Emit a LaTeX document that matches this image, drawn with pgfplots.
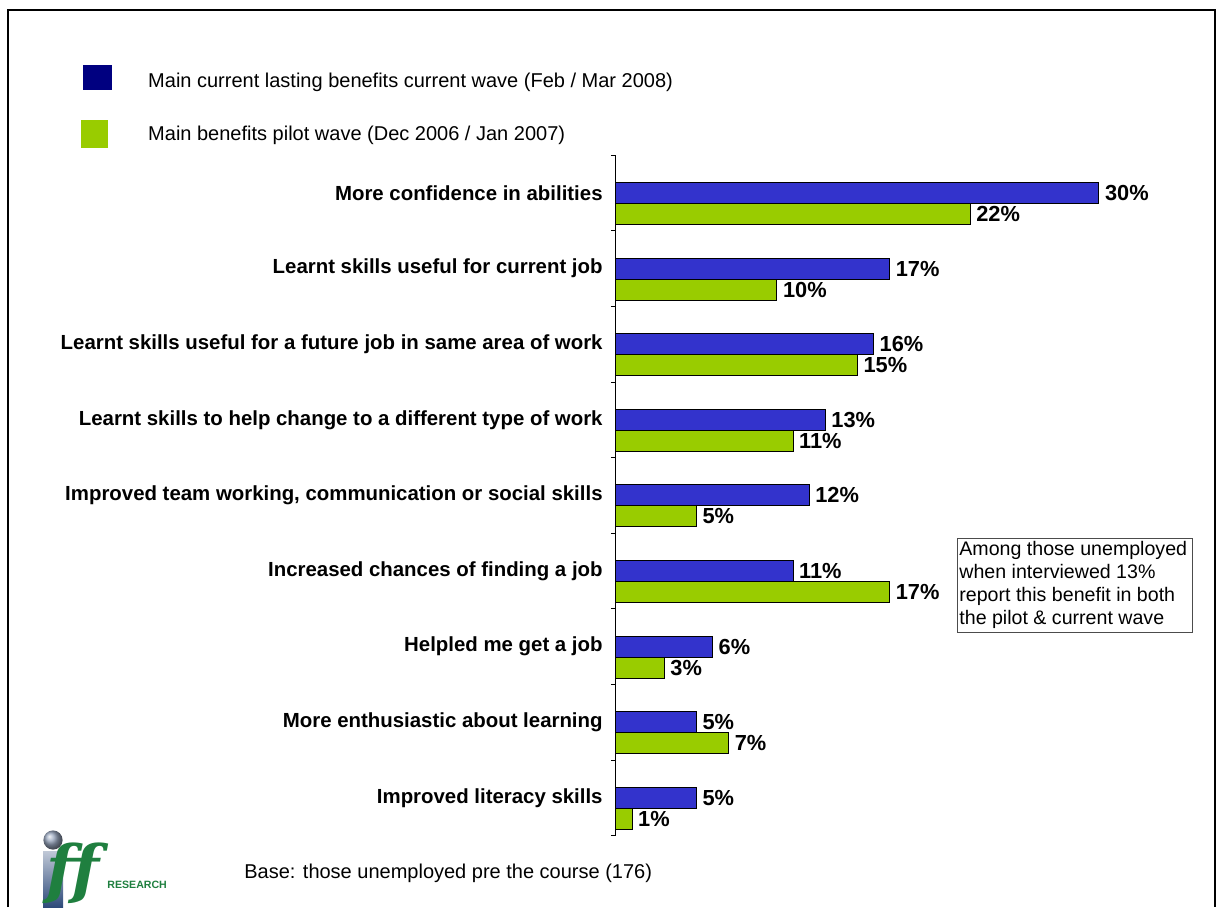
\documentclass[border=0pt]{standalone}
\usepackage{pgfplots}
\pgfplotsset{compat=1.18}
\usepackage{fontspec}
\setmainfont{Liberation Sans}
\newfontfamily\logofont{DejaVu Serif}
\definecolor{barblue}{HTML}{3333CC}
\definecolor{bargreen}{HTML}{99CC00}
\definecolor{legnavy}{HTML}{000080}
\definecolor{logogreen}{HTML}{1F7F3F}
\definecolor{logoblue}{HTML}{2E4A7A}
\begin{document}
\begin{tikzpicture}
\useasboundingbox (0,0) rectangle (608.5pt,-453.5pt);
\draw[line width=1pt] (4pt,-453.5pt) -- (4pt,-5pt) -- (607.5pt,-5pt) -- (607.5pt,-453.5pt);
\begin{axis}[
 at={(308pt,-417.8pt)}, anchor=south west,
 scale only axis, width=289.8pt, height=340.2pt,
 xmin=0, xmax=36, ymin=-0.5, ymax=8.5, y dir=reverse,
 enlargelimits=false,
 axis x line=none, axis y line=left, axis line style={-, black, line width=0.5pt},
 xbar, bar width=10.5pt,
 ytick={0,...,8},
 yticklabels={More confidence in abilities, Learnt skills useful for current job, Learnt skills useful for a future job in same area of work, Learnt skills to help change to a different type of work, {Improved team working, communication or social skills}, Increased chances of finding a job, Helpled me get a job, More enthusiastic about learning, Improved literacy skills},
 minor ytick={-0.5,0.5,...,8.5},
 major tick length=0pt, minor tick length=2.5pt, tick align=outside,
 tick style={black, line width=0.5pt},
 yticklabel style={font=\fontsize{10.2}{12}\selectfont\bfseries, inner sep=0pt, xshift=-6.5pt},
 /pgf/number format/assume math mode=true,
 nodes near coords={\pgfmathprintnumber{\pgfplotspointmeta}\%},
 nodes near coords style={font=\fontsize{10.9}{12}\selectfont\bfseries, text=black, anchor=west, inner sep=0pt, xshift=2.8pt},
 legend style={at={(-0.923,1.1326)}, anchor=north west, draw=none, fill=none, inner sep=0pt, row sep=15pt, nodes={inner sep=0pt, font=\fontsize{10}{12}\selectfont}},
 legend cell align=left,
 clip=false,
]
\addlegendimage{legend image code/.code={\fill[legnavy] (0pt,-6pt) rectangle (14pt,6pt); \path (32pt,0pt);}}
\addlegendentry{\raisebox{-2pt}[\height][\depth]{Main current lasting benefits current wave (Feb / Mar 2008)}}
\addlegendimage{legend image code/.code={\fill[bargreen] (-1pt,-6.5pt) rectangle (12pt,7pt); \path (32pt,0pt);}}
\addlegendentry{Main benefits pilot wave (Dec 2006 / Jan 2007)}
\addplot[xbar, fill=barblue, draw=black, line width=0.5pt, bar shift=0pt, forget plot] coordinates {(30,0) (17,1) (16,2) (13,3) (12,4) (11,5) (6,6) (5,7) (5,8)};
\addplot[xbar, fill=bargreen, draw=black, line width=0.5pt, bar shift=-10.5pt, forget plot] coordinates {(22,0) (10,1) (15,2) (11,3) (5,4) (17,5) (3,6) (7,7) (1,8)};
\end{axis}
\node[draw=black!70, anchor=north west, inner sep=1pt, text width=115.5pt, align=flush left, font=\fontsize{9.8}{11.5}\selectfont, minimum height=47pt] at (478.5pt,-269pt) {Among those unemployed\\when interviewed 13\%\\report this benefit in both\\the pilot \& current wave};
\node[anchor=west, inner sep=0pt, font=\fontsize{10}{12}\selectfont] at (122pt,-436.5pt) {Base: those unemployed pre the course (176)};
% logo
\shade[top color=logoblue!30, bottom color=logoblue] (21.5pt,-425.5pt) rectangle (31.5pt,-453.5pt);
\shade[ball color=logoblue!50] (26.5pt,-420pt) circle (4.8pt);
\node[logogreen, font=\logofont\itshape\bfseries\fontsize{32}{32}\selectfont, anchor=south west, inner sep=0pt] at (23pt,-452pt) {ff};
\node[logogreen, font=\bfseries\fontsize{5.3}{6}\selectfont, anchor=west, inner sep=0pt] at (53.5pt,-442.5pt) {RESEARCH};
\end{tikzpicture}
\end{document}
